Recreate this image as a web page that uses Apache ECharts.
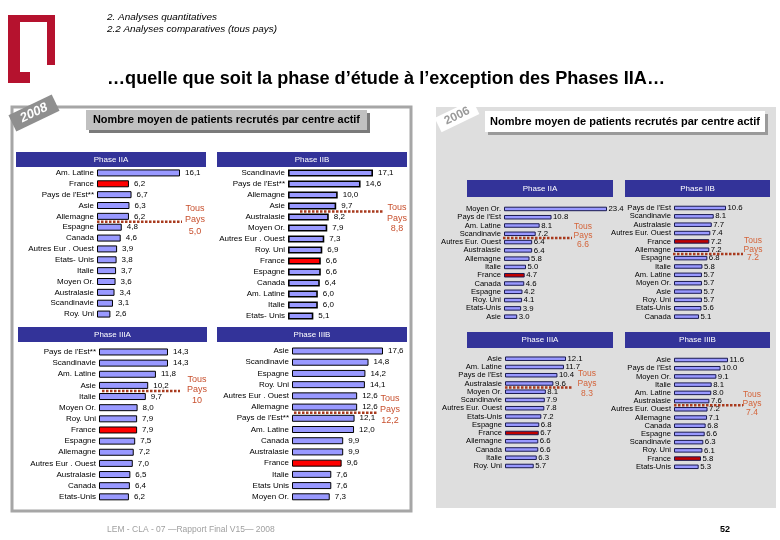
<!DOCTYPE html>
<html><head><meta charset="utf-8">
<script src="https://cdn.jsdelivr.net/npm/echarts@6.0.0/dist/echarts.min.js"></script>
<style>html,body{margin:0;padding:0;background:#fff}#c{width:780px;height:540px}</style>
</head><body><div id="c"></div>
<script>
// ---------------- DATA ----------------
const cats08IIA = ['Am. Latine','France',"Pays de l'Est**",'Asie','Allemagne','Espagne','Canada','Autres Eur . Ouest','Etats- Unis','Italie','Moyen Or.','Australasie','Scandinavie','Roy. Uni'];
const vals08IIA = [16.1,6.2,6.7,6.3,6.2,4.8,4.6,3.9,3.8,3.7,3.6,3.4,3.1,2.6];
const avg08IIA = 5.0;

const cats08IIB = ['Scandinavie',"Pays de l'Est**",'Allemagne','Asie','Australasie','Moyen Or.','Autres Eur . Ouest','Roy. Uni','France','Espagne','Canada','Am. Latine','Italie','Etats- Unis'];
const vals08IIB = [17.1,14.6,10.0,9.7,8.2,7.9,7.3,6.9,6.6,6.6,6.4,6.0,6.0,5.1];
const avg08IIB = 8.8;

const cats08IIIA = ["Pays de l'Est**",'Scandinavie','Am. Latine','Asie','Italie','Moyen Or.','Roy. Uni','France','Espagne','Allemagne','Autres Eur . Ouest','Australasie','Canada','Etats-Unis'];
const vals08IIIA = [14.3,14.3,11.8,10.2,9.7,8.0,7.9,7.9,7.5,7.2,7.0,6.5,6.4,6.2];
const avg08IIIA = 10;

const cats08IIIB = ['Asie','Scandinavie','Espagne','Roy. Uni','Autres Eur . Ouest','Allemagne',"Pays de l'Est**",'Am. Latine','Canada','Australasie','France','Italie','Etats Unis','Moyen Or.'];
const vals08IIIB = [17.6,14.8,14.2,14.1,12.6,12.6,12.1,12.0,9.9,9.9,9.6,7.6,7.6,7.3];
const avg08IIIB = 12.2;

const cats06IIA = ['Moyen Or.',"Pays de l'Est",'Am. Latine','Scandinavie','Autres Eur. Ouest','Australasie','Allemagne','Italie','France','Canada','Espagne','Roy. Uni','Etats-Unis','Asie'];
const vals06IIA = [23.4,10.8,8.1,7.2,6.4,6.4,5.8,5.0,4.7,4.6,4.2,4.1,3.9,3.0];
const avg06IIA = 6.6;

const cats06IIB = ["Pays de l'Est",'Scandinavie','Australasie','Autres Eur. Ouest','France','Allemagne','Espagne','Italie','Am. Latine','Moyen Or.','Asie','Roy. Uni','Etats-Unis','Canada'];
const vals06IIB = [10.6,8.1,7.7,7.4,7.2,7.2,6.8,5.8,5.7,5.7,5.7,5.7,5.6,5.1];
const avg06IIB = 7.2;

const cats06IIIA = ['Asie','Am. Latine',"Pays de l'Est",'Australasie','Moyen Or.','Scandinavie','Autres Eur. Ouest','Etats-Unis','Espagne','France','Allemagne','Canada','Italie','Roy. Uni'];
const vals06IIIA = [12.1,11.7,10.4,9.6,8.1,7.9,7.8,7.2,6.8,6.7,6.6,6.6,6.3,5.7];
const avg06IIIA = 8.3;

const cats06IIIB = ['Asie',"Pays de l'Est",'Moyen Or.','Italie','Am. Latine','Australasie','Autres Eur. Ouest','Allemagne','Canada','Espagne','Scandinavie','Roy. Uni','France','Etats-Unis'];
const vals06IIIB = [11.6,10.0,9.1,8.1,8.0,7.6,7.2,7.1,6.8,6.6,6.3,6.1,5.8,5.3];
const avg06IIIB = 7.4;

const phaseNames = ['Phase IIA','Phase IIB','Phase IIIA','Phase IIIB'];

// ---------------- LAYOUT ----------------
const FF = "'Liberation Sans', Arial, Helvetica, sans-serif";
const S08 = {dec:',', bw:7, ld:5, lo:2, fs:8, lfs:8, bc:'#000', fr:'#ff0000', tc:'#c8502e', tfs:9};
const S06 = {dec:'.', bw:4.5, ld:1.5, lo:0.5, fs:7.8, lfs:7.6, bc:'#1a1a50', fr:'#c00000', tc:'#d4643a', tfs:8.5};
const panels = [
  {cats:cats08IIA, vals:vals08IIA, avg:avg08IIA, s:S08, g:[97,167.5,83,152], h:[16,152,190,15], ln:[0,85], tx:98, ty:-2, lh:11.5, bwid:1, ad:1},
  {cats:cats08IIB, vals:vals08IIB, avg:avg08IIB, s:S08, g:[288,167.5,85,154], h:[217,152,190,15], ln:[12,95], tx:109, ty:7, lh:10.5, bwid:1.6, ad:1},
  {cats:cats08IIIA, vals:vals08IIIA, avg:avg08IIIA, s:S08, g:[99,346.4,69,156], h:[18,327,189,15], ln:[3,81], tx:98, ty:-1, lh:10.5, bwid:1, ad:0},
  {cats:cats08IIIB, vals:vals08IIIB, avg:avg08IIIB, s:S08, g:[292,345.4,91,157], h:[217,327,190,15], ln:[2,85], tx:98, ty:-3, lh:11, bwid:1, ad:1},
  {cats:cats06IIA, vals:vals06IIA, avg:avg06IIA, s:S06, g:[504,204.8,103,116], h:[467,180,146,17], ln:[-1,68], tx:79, ty:-2, lh:9, bwid:1, ad:1},
  {cats:cats06IIB, vals:vals06IIB, avg:avg06IIB, s:S06, g:[674,203.8,52,117], h:[625,180,145,17], ln:[-1,69], tx:79, ty:-4.5, lh:8.5, bwid:1, ad:1},
  {cats:cats06IIIA, vals:vals06IIIA, avg:avg06IIIA, s:S06, g:[505,354.6,61,115.5], h:[467,332,146,16], ln:[0,67], tx:82, ty:-4, lh:10, bwid:1, ad:1},
  {cats:cats06IIIB, vals:vals06IIIB, avg:avg06IIIB, s:S06, g:[674,355.9,54,115], h:[625,332,145,16], ln:[0,69], tx:78, ty:-1.5, lh:9, bwid:1, ad:1}
];

function fmt(v, dec, d){ return v.toFixed(d===undefined?1:d).replace('.', dec); }
const mctx = document.createElement('canvas').getContext('2d');
function fit(text, font, target){ mctx.font = font; return target / mctx.measureText(text).width; }

const chart = echarts.init(document.getElementById('c'), null, {renderer:'canvas'});
const grid=[], xAxis=[], yAxis=[], series=[];
panels.forEach((p,i)=>{
  grid.push({left:p.g[0], top:p.g[1], width:p.g[2], height:p.g[3], containLabel:false});
  xAxis.push({type:'value', gridIndex:i, min:0, max:'dataMax', show:false});
  yAxis.push({type:'category', gridIndex:i, data:p.cats, inverse:true,
    axisLine:{show:false}, axisTick:{show:false}, splitLine:{show:false},
    axisLabel:{interval:0, hideOverlap:false, fontSize:p.s.lfs, color:'#000', margin:3, fontFamily:FF}});
  series.push({type:'bar', xAxisIndex:i, yAxisIndex:i, barWidth:p.s.bw, silent:true, animation:false,
    data:p.vals.map((v,j)=>p.cats[j]==='France'?{value:v, itemStyle:{color:p.s.fr}}:v),
    itemStyle:{color:'#9999ff', borderColor:p.s.bc, borderWidth:p.bwid},
    labelLayout:{hideOverlap:false},
    label:{show:true, position:'right', distance:p.s.ld, offset:[0,p.s.lo], fontSize:p.s.fs, color:'#000', fontFamily:FF,
      formatter:o=>fmt(o.value,p.s.dec)}});
});
chart.setOption({animation:false, grid, xAxis, yAxis, series});

// ---------------- DECORATION ----------------
const G = [];
G.push({type:'rect', z:-10, shape:{x:12,y:107,width:399,height:404}, style:{fill:'#fff', stroke:'#a6a6a6', lineWidth:3}});
G.push({type:'rect', z:-10, shape:{x:436,y:107,width:340,height:401}, style:{fill:'#dedede'}});
// logo
const RED='#b5122e';
[[8,15,47,7],[47,15,8,50],[8,15,12,68],[8,72,22,11]].forEach(r=>G.push({type:'rect', shape:{x:r[0],y:r[1],width:r[2],height:r[3]}, style:{fill:RED}}));
// header lines
const h1='2. Analyses quantitatives', h2='2.2 Analyses comparatives (tous pays)';
G.push({type:'text', x:107, y:17, scaleX:fit(h1,'italic 9.5px '+FF,110), style:{text:h1, font:'italic 9.5px '+FF, fill:'#000', verticalAlign:'middle'}});
G.push({type:'text', x:107, y:29, scaleX:fit(h2,'italic 9.5px '+FF,170), style:{text:h2, font:'italic 9.5px '+FF, fill:'#000', verticalAlign:'middle'}});
const title='…quelle que soit la phase d’étude à l’exception des Phases IIA…';
G.push({type:'text', x:107, y:79, scaleX:fit(title,'bold 18px '+FF,558), style:{text:title, font:'bold 18px '+FF, fill:'#000', verticalAlign:'middle'}});
// tags
G.push({type:'group', x:34, y:113, rotation:0.45, children:[
  {type:'rect', shape:{x:-24,y:-9,width:48,height:18}, style:{fill:'#8f8f8f'}},
  {type:'text', style:{text:'2008', font:'italic bold 13px '+FF, fill:'#fff', align:'center', verticalAlign:'middle'}}]});
G.push({type:'group', x:457, y:116, rotation:0.45, children:[
  {type:'rect', shape:{x:-21,y:-8,width:42,height:16}, style:{fill:'#fff'}},
  {type:'text', style:{text:'2006', font:'bold 12px '+FF, fill:'#9a9a9a', align:'center', verticalAlign:'middle'}}]});
// label boxes
const lbl='Nombre moyen de patients recrutés par centre actif';
G.push({type:'rect', shape:{x:89,y:113,width:281,height:20}, style:{fill:'#7a7a7a'}});
G.push({type:'rect', shape:{x:86,y:110,width:281,height:20}, style:{fill:'#c0c0c0'}});
G.push({type:'text', x:226.5, y:120, scaleX:fit(lbl,'bold 11px '+FF,267), style:{text:lbl, font:'bold 11px '+FF, fill:'#000', align:'center', verticalAlign:'middle'}});
G.push({type:'rect', shape:{x:488,y:114,width:280,height:21}, style:{fill:'#9a9a9a'}});
G.push({type:'rect', shape:{x:485,y:111,width:280,height:21}, style:{fill:'#fff'}});
G.push({type:'text', x:625, y:121.5, scaleX:fit(lbl,'bold 11px '+FF,270), style:{text:lbl, font:'bold 11px '+FF, fill:'#000', align:'center', verticalAlign:'middle'}});
// phase headers, average lines
panels.forEach((p,i)=>{
  G.push({type:'rect', shape:{x:p.h[0],y:p.h[1],width:p.h[2],height:p.h[3]}, style:{fill:'#333399'}});
  G.push({type:'text', x:p.h[0]+p.h[2]/2, y:p.h[1]+p.h[3]/2, style:{text:phaseNames[i%4], font:'8px '+FF, fill:'#fff', align:'center', verticalAlign:'middle'}});
  let k=0; p.vals.forEach((v,j)=>{ if(v>=p.avg) k=j; });
  const a = chart.convertToPixel({gridIndex:i}, [0,k]);
  const b = chart.convertToPixel({gridIndex:i}, [0,k+1]);
  const ly = (a[1]+b[1])/2, x0 = a[0];
  G.push({type:'line', z:10, shape:{x1:x0+p.ln[0], y1:ly, x2:x0+p.ln[1], y2:ly}, style:{stroke:'#a83a1e', lineWidth:2.5, lineDash:[2.5,1.5]}});
  G.push({type:'text', z:10, x:x0+p.tx, y:ly+p.ty, style:{text:'Tous\nPays\n'+fmt(p.avg,p.s.dec,p.ad), font:p.s.tfs+'px '+FF, lineHeight:p.lh, fill:p.s.tc, align:'center', verticalAlign:'middle'}});
});
// footer
G.push({type:'text', x:107, y:530, style:{text:'LEM - CLA - 07 —Rapport Final V15— 2008', font:'8.5px '+FF, fill:'#a0a0a0', verticalAlign:'middle'}});
G.push({type:'text', x:720, y:530, style:{text:'52', font:'bold 9px '+FF, fill:'#000', verticalAlign:'middle'}});
chart.setOption({graphic:G});
</script>
</body></html>
